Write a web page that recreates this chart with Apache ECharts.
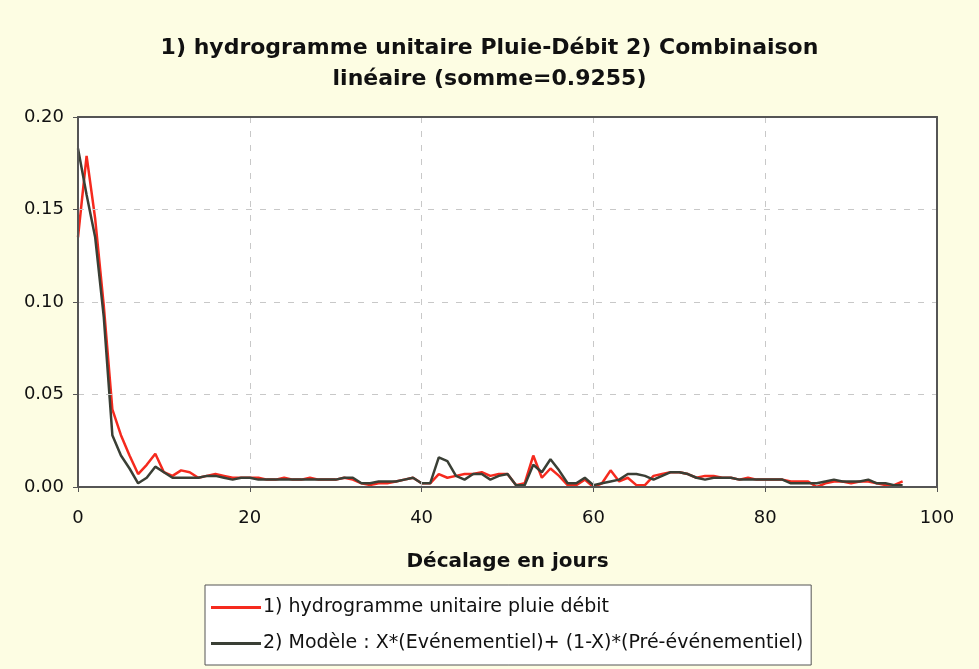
<!DOCTYPE html>
<html>
<head>
<meta charset="utf-8">
<script src="https://cdn.jsdelivr.net/npm/echarts@6/dist/echarts.min.js"></script>
<style>
  html, body { margin: 0; padding: 0; background: #fdfde3; }
  #chart { width: 979px; height: 669px; }
</style>
</head>
<body>
<div id="chart"></div>
<script>
// days 0..96
const days = Array.from({ length: 97 }, (_, i) => i)

const hydrogramme = [
  0.135, 0.179, 0.145, 0.098, 0.042, 0.028, 0.017, 0.007, 0.012, 0.018,
  0.008, 0.006, 0.009, 0.008, 0.005, 0.006, 0.007, 0.006, 0.005, 0.005,
  0.005, 0.005, 0.004, 0.004, 0.005, 0.004, 0.004, 0.005, 0.004, 0.004,
  0.004, 0.005, 0.004, 0.002, 0.001, 0.002, 0.002, 0.003, 0.004, 0.005,
  0.002, 0.002, 0.007, 0.005, 0.006, 0.007, 0.007, 0.008, 0.006, 0.007,
  0.007, 0.001, 0.002, 0.017, 0.005, 0.010, 0.006, 0.001, 0.001, 0.004,
  0.000, 0.002, 0.009, 0.003, 0.005, 0.001, 0.001, 0.006, 0.007, 0.008,
  0.008, 0.007, 0.005, 0.006, 0.006, 0.005, 0.005, 0.004, 0.005, 0.004,
  0.004, 0.004, 0.004, 0.003, 0.003, 0.003, 0.000, 0.002, 0.003, 0.003,
  0.002, 0.003, 0.003, 0.002, 0.001, 0.001, 0.003
]

const modele = [
  0.183, 0.158, 0.135, 0.092, 0.028, 0.017, 0.010, 0.002, 0.005, 0.011,
  0.008, 0.005, 0.005, 0.005, 0.005, 0.006, 0.006, 0.005, 0.004, 0.005,
  0.005, 0.004, 0.004, 0.004, 0.004, 0.004, 0.004, 0.004, 0.004, 0.004,
  0.004, 0.005, 0.005, 0.002, 0.002, 0.003, 0.003, 0.003, 0.004, 0.005,
  0.002, 0.002, 0.016, 0.014, 0.006, 0.004, 0.007, 0.007, 0.004, 0.006,
  0.007, 0.001, 0.001, 0.012, 0.008, 0.015, 0.009, 0.002, 0.002, 0.005,
  0.001, 0.002, 0.003, 0.004, 0.007, 0.007, 0.006, 0.004, 0.006, 0.008,
  0.008, 0.007, 0.005, 0.004, 0.005, 0.005, 0.005, 0.004, 0.004, 0.004,
  0.004, 0.004, 0.004, 0.002, 0.002, 0.002, 0.002, 0.003, 0.004, 0.003,
  0.003, 0.003, 0.004, 0.002, 0.002, 0.001, 0.001
]

const xTicks = [0, 20, 40, 60, 80, 100]
const yTicks = [0, 0.05, 0.10, 0.15, 0.20]

const nameRed = '1) hydrogramme unitaire pluie débit'
const nameBlack = '2) Modèle : X*(Evénementiel)+ (1-X)*(Pré-événementiel)'

const chart = echarts.init(document.getElementById('chart'))

const font = '"DejaVu Sans", "Liberation Sans", Arial, sans-serif'
const frame = { show: true, onZero: false, lineStyle: { color: '#555', width: 2 } }

chart.setOption({
  backgroundColor: '#fdfde3',
  animation: false,
  textStyle: { fontFamily: font },
  title: {
    text: '1) hydrogramme unitaire Pluie-Débit 2) Combinaison\nlinéaire (somme=0.9255)',
    left: 'center',
    top: 28,
    textStyle: {
      fontFamily: font,
      fontSize: 22,
      fontWeight: 'bold',
      color: '#111',
      lineHeight: 31,
    },
  },
  legend: {
    orient: 'vertical',
    left: 205,
    top: 585,
    padding: [13, 8, 12, 6],
    backgroundColor: '#ffffff',
    borderColor: '#555',
    borderWidth: 1,
    itemWidth: 50,
    itemHeight: 3,
    itemGap: 17,
    icon: 'rect',
    textStyle: { fontFamily: font, fontSize: 19, color: '#111', padding: [0, 0, 0, -3] },
    data: [nameRed, nameBlack],
  },
  grid: {
    left: 78,
    right: 42,
    top: 117,
    bottom: 182,
    show: true,
    backgroundColor: '#ffffff',
    borderWidth: 0,
  },
  xAxis: [
    {
      type: 'value',
      min: xTicks[0],
      max: xTicks[xTicks.length - 1],
      interval: 20,
      name: 'Décalage en jours',
      nameLocation: 'middle',
      nameGap: 65,
      nameTextStyle: { fontFamily: font, fontSize: 20, fontWeight: 'bold', color: '#111' },
      axisLine: frame,
      axisTick: { show: true, length: 5, lineStyle: { color: '#555' } },
      axisLabel: { fontFamily: font, fontSize: 18, color: '#111', margin: 22 },
      splitLine: { show: true, lineStyle: { color: '#c8c8c8', type: [6, 8] } },
      z: 5,
    },
    {
      type: 'value',
      position: 'top',
      min: xTicks[0],
      max: xTicks[xTicks.length - 1],
      axisLine: frame,
      axisTick: { show: false },
      axisLabel: { show: false },
      splitLine: { show: false },
      z: 5,
    },
  ],
  yAxis: [
    {
      type: 'value',
      min: yTicks[0],
      max: yTicks[yTicks.length - 1],
      interval: 0.05,
      axisLine: frame,
      axisTick: { show: true, length: 5, lineStyle: { color: '#555' } },
      axisLabel: {
        fontFamily: font,
        fontSize: 18,
        color: '#111',
        margin: 14,
        formatter: (v) => v.toFixed(2),
      },
      splitLine: { show: true, lineStyle: { color: '#c8c8c8', type: [6, 8] } },
      z: 5,
    },
    {
      type: 'value',
      position: 'right',
      min: yTicks[0],
      max: yTicks[yTicks.length - 1],
      axisLine: frame,
      axisTick: { show: false },
      axisLabel: { show: false },
      splitLine: { show: false },
      z: 5,
    },
  ],
  series: [
    {
      name: nameRed,
      type: 'line',
      showSymbol: false,
      symbol: 'none',
      color: '#f52a1e',
      lineStyle: { width: 2.5, color: '#f52a1e' },
      data: days.map((d, i) => [d, hydrogramme[i]]),
      z: 2,
    },
    {
      name: nameBlack,
      type: 'line',
      showSymbol: false,
      symbol: 'none',
      color: '#3a3f35',
      lineStyle: { width: 2.5, color: '#3a3f35' },
      data: days.map((d, i) => [d, modele[i]]),
      z: 3,
    },
  ],
})
</script>
</body>
</html>
